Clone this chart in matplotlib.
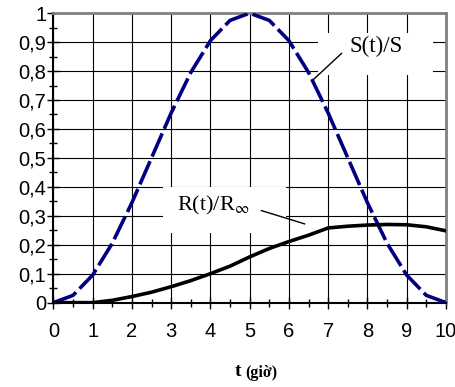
import matplotlib
matplotlib.use("Agg")
import matplotlib.pyplot as plt
from matplotlib.patches import Rectangle

# time (hours)
t = [0, 0.5, 1, 1.5, 2, 2.5, 3, 3.5, 4, 4.5, 5,
     5.5, 6, 6.5, 7, 7.5, 8, 8.5, 9, 9.5, 10]
# S(t)/S  (dashed, navy)
s_ratio = [0, 0.025, 0.095, 0.205, 0.345, 0.5, 0.655, 0.795, 0.905, 0.975, 1.0,
           0.975, 0.905, 0.795, 0.655, 0.5, 0.345, 0.205, 0.095, 0.025, 0]
# R(t)/R_inf  (solid, black)
r_ratio = [0, 0, 0, 0.008, 0.021, 0.036, 0.055, 0.076, 0.1, 0.126, 0.158,
           0.187, 0.211, 0.233, 0.258, 0.264, 0.268, 0.27, 0.269, 0.262, 0.248]

xticks = list(range(0, 11))
yticks = [i / 10 for i in range(0, 11)]
ylabels = ["0", "0,1", "0,2", "0,3", "0,4", "0,5", "0,6", "0,7", "0,8", "0,9", "1"]

fig = plt.figure(figsize=(4.56, 3.87), dpi=100)
ax = fig.add_axes([0.117, 0.218, 0.861, 0.748])

ax.set_xlim(0, 10)
ax.set_ylim(0, 1)
ax.set_axisbelow(True)
ax.grid(True, which="major", color="black", lw=0.8)

# white label boxes (hide the grid behind the labels)
ax.add_patch(Rectangle((6.74, 0.786), 2.92, 0.145, facecolor="white", edgecolor="none", zorder=1))
ax.add_patch(Rectangle((2.79, 0.24), 3.14, 0.158, facecolor="white", edgecolor="none", zorder=1))

ax.plot(t, s_ratio, color="#000080", lw=2.6, dashes=(7, 1.4), zorder=3)
ax.plot(t, r_ratio, color="black", lw=2.6, zorder=3)

serif = "Liberation Serif"
plt.rcParams["mathtext.fontset"] = "stix"
ax.text(8.21, 0.884, "S(t)/S", fontsize=16.5, family=serif, ha="center", va="center", zorder=4)
ax.plot([7.34, 6.61], [0.861, 0.769], color="black", lw=1, zorder=4)
ax.text(3.15, 0.335, r"R(t)/R$_\infty$", fontsize=16, family=serif, ha="left", va="center", zorder=4)
ax.plot([5.30, 6.40], [0.318, 0.272], color="black", lw=1, zorder=4)

ax.set_xticks(xticks)
ax.set_xticks([x + 0.5 for x in range(10)], minor=True)
ax.set_yticks(yticks)
ax.set_yticks([y + 0.05 for y in yticks[:-1]], minor=True)
ax.set_yticklabels(ylabels)
ax.tick_params(which="major", direction="inout", length=8, width=1, labelsize=14.5)
ax.tick_params(which="minor", direction="inout", length=6, width=1)
ax.tick_params(axis="x", pad=10)
ax.tick_params(axis="y", pad=1)
for lab in ax.get_xticklabels() + ax.get_yticklabels():
    lab.set_family("Liberation Sans")

for side in ["left", "bottom"]:
    ax.spines[side].set_color("black")
    ax.spines[side].set_linewidth(1.5)
for side in ["top", "right"]:
    ax.spines[side].set_color("#808080")
    ax.spines[side].set_linewidth(2)

fig.text(0.522, 0.040, "t", fontsize=14, family=serif, weight="bold", ha="center", va="center")
fig.text(0.538, 0.036, "(giờ)", fontsize=11.5, family=serif, weight="bold", ha="left", va="center")

fig.savefig("out.png", dpi=100)
